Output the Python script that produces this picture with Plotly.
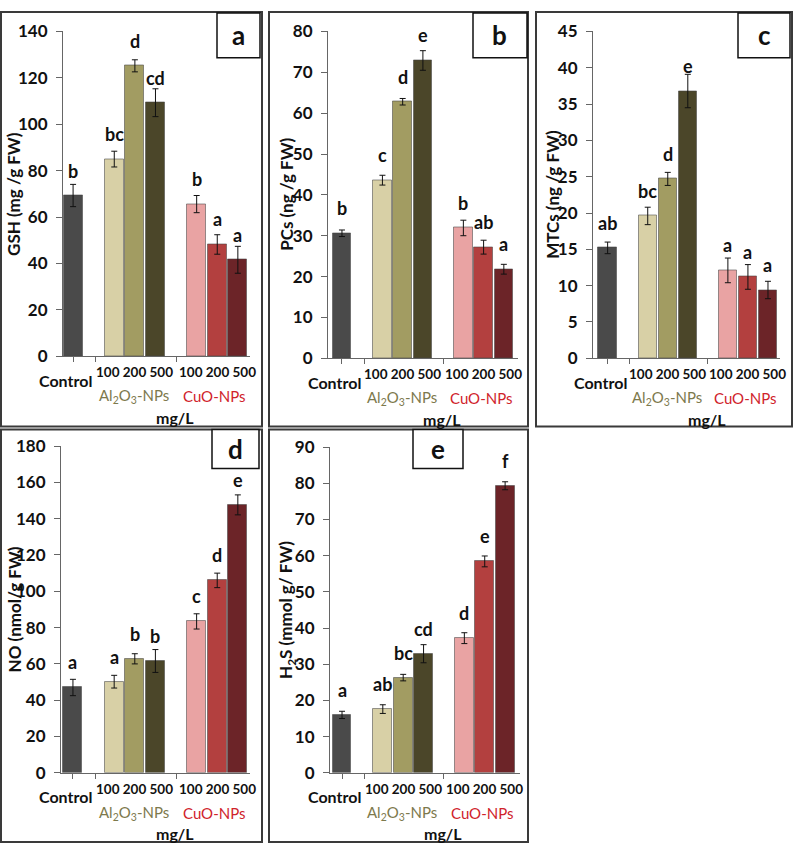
import plotly.graph_objects as go

# ---------------- data ----------------
dose_labels = ["Control", "100", "200", "500", "100", "200", "500"]
group_of = [0, 1, 1, 1, 2, 2, 2]
group_names = ["Control", "Al<sub>2</sub>O<sub>3</sub>-NPs", "CuO-NPs"]
bar_colors = ["#4a4a4a", "#d8d0a6", "#a29c62", "#4b4629", "#e9a3a3", "#b3403f", "#6c2428"]

gsh_mean = [69.3, 85.0, 125.2, 109.3, 65.6, 48.2, 41.6]
gsh_err = [4.8, 3.4, 2.6, 6.0, 3.7, 4.2, 5.8]
gsh_letters = ["b", "bc", "d", "cd", "b", "a", "a"]

pcs_mean = [30.6, 43.6, 62.8, 72.9, 31.9, 27.2, 21.8]
pcs_err = [0.8, 1.2, 0.8, 2.4, 1.9, 1.7, 1.2]
pcs_letters = ["b", "c", "d", "e", "b", "ab", "a"]

mtc_mean = [15.2, 19.6, 24.7, 36.8, 12.1, 11.2, 9.4]
mtc_err = [0.8, 1.2, 0.9, 2.3, 1.7, 1.7, 1.2]
mtc_letters = ["ab", "bc", "d", "e", "a", "a", "a"]

no_mean = [47.0, 50.2, 62.8, 61.6, 83.4, 106.0, 147.6]
no_err = [4.5, 3.5, 2.8, 6.3, 4.2, 4.0, 5.5]
no_letters = ["a", "a", "b", "b", "c", "d", "e"]

h2s_mean = [16.0, 17.6, 26.3, 32.9, 37.2, 58.4, 79.3]
h2s_err = [1.0, 1.2, 0.9, 2.5, 1.5, 1.5, 1.1]
h2s_letters = ["a", "ab", "bc", "cd", "d", "e", "f"]

# ---------------- layout helpers ----------------
W, H = 794, 855
def px(x):
    return x / W
def py(y):
    return 1 - y / H

# slot position: index + number of gaps before it
x_slots = [i + g for i, g in enumerate(group_of)]

panels = [
    dict(tag="a", mean=gsh_mean, err=gsh_err, let=gsh_letters, title="GSH (mg /g FW)",
         ymax=140, dtick=20, box=(63, 250, 21, 354), xr=(-0.49, 8.59),
         tagbox=(217, 260, 2, 48), frame=(1, 262, 1, 426), title_x=14),
    dict(tag="b", mean=pcs_mean, err=pcs_err, let=pcs_letters, title="PCs (ng /g FW)",
         ymax=80, dtick=10, box=(328, 518, 21, 356), xr=(-0.69, 8.7),
         tagbox=(473, 527, 2, 48), frame=(269, 528, 1, 426), title_x=287),
    dict(tag="c", mean=mtc_mean, err=mtc_err, let=mtc_letters, title="MTCs (ng /g FW)",
         ymax=45, dtick=5, box=(593, 780, 21, 356), xr=(-0.73, 8.6),
         tagbox=(738, 790, 2, 48), frame=(536, 792, 1, 426), title_x=553),
    dict(tag="d", mean=no_mean, err=no_err, let=no_letters, title="NO (nmol/g FW)",
         ymax=180, dtick=20, box=(61, 250, 446, 781), xr=(-0.58, 8.59),
         tagbox=(212, 259, 429, 469), frame=(1, 262, 429, 852), title_x=14),
    dict(tag="e", mean=h2s_mean, err=h2s_err, let=h2s_letters, title="H<sub>2</sub>S (mmol g/ FW)",
         ymax=90, dtick=10, box=(330, 520, 447, 781), xr=(-0.59, 8.73),
         tagbox=(413, 463, 429, 469), frame=(269, 528, 429, 852), title_x=287),
]

FONT = "Lato, 'Open Sans', sans-serif"
OLIVE = "#7d794c"
RED = "#d0232b"

fig = go.Figure()
annotations = []
shapes = []
layout_axes = {}

for k, p in enumerate(panels, start=1):
    xa = "x" if k == 1 else f"x{k}"
    ya = "y" if k == 1 else f"y{k}"
    L, R, T, B = p["box"]
    fig.add_trace(go.Bar(
        x=x_slots, y=p["mean"], xaxis=xa, yaxis=ya, width=0.92,
        marker=dict(color=bar_colors, line=dict(color="rgba(70,70,70,0.55)", width=1)),
        error_y=dict(type="data", array=p["err"], color="#111111", thickness=1, width=3),
        hoverinfo="skip",
    ))
    layout_axes[f"xaxis{'' if k == 1 else k}"] = dict(
        domain=[px(L), px(R)], range=list(p["xr"]), anchor=ya,
        showgrid=False, zeroline=False, showline=True, linecolor="#666666", linewidth=1,
        tickvals=[0, 1.1, 5.0], ticks="outside", ticklen=5, tickcolor="#666666",
        showticklabels=False, fixedrange=True,
    )
    layout_axes[f"yaxis{'' if k == 1 else k}"] = dict(
        domain=[py(B), py(T)], range=[0, p["ymax"]], dtick=p["dtick"], anchor=xa,
        showgrid=False, zeroline=False, showline=True, linecolor="#666666", linewidth=1,
        ticks="outside", ticklen=6, tickcolor="#666666", ticklabelstandoff=5,
        tickfont=dict(family=FONT, size=17, color="#111111", weight="bold"), fixedrange=True,
    )
    # significance letters
    for xs, m, lt in zip(x_slots, p["mean"], p["let"]):
        annotations.append(dict(x=xs, y=m, xref=xa, yref=ya, text=f"<b>{lt}</b>", showarrow=False,
                                yanchor="bottom", yshift=12,
                                font=dict(family=FONT, size=18, color="#111111")))
    # category labels: control alone, doses joined per group
    for g in range(len(group_names)):
        idx = [i for i, gg in enumerate(group_of) if gg == g]
        xs = [x_slots[i] for i in idx]
        labs = [dose_labels[i] for i in idx]
        if g == 0:
            annotations.append(dict(x=xs[0] - 0.38, y=0, xref=xa, yref=ya,
                                    text=f"<b>{labs[0]}</b>", showarrow=False,
                                    yanchor="middle", yshift=-24,
                                    font=dict(family=FONT, size=16, color="#111111")))
        else:
            annotations.append(dict(x=sum(xs) / len(xs), y=0, xref=xa, yref=ya,
                                    text="<b>" + " ".join(labs) + "</b>", showarrow=False,
                                    yanchor="middle", yshift=-16,
                                    font=dict(family=FONT, size=13.5, color="#111111")))
    # group lines and labels
    for (x0, x1, xc), name, col, tcol in [((1.07, 4.8, 2.95), group_names[1], "#8f8a5a", OLIVE),
                                          ((4.95, 8.74, 6.85), group_names[2], "#b94040", RED)]:
        shapes.append(dict(type="line", xref=xa, yref=ya, x0=x0, x1=x1, ysizemode="pixel",
                           yanchor=0, y0=-26, y1=-26, line=dict(color=col, width=2)))
        annotations.append(dict(x=xc, y=0, xref=xa, yref=ya, text=name, showarrow=False,
                                yanchor="middle", yshift=-40,
                                font=dict(family=FONT, size=15, color=tcol)))
    annotations.append(dict(x=4.95, y=0, xref=xa, yref=ya, text="<b>mg/L</b>", showarrow=False,
                            yanchor="middle", yshift=-61,
                            font=dict(family=FONT, size=16, color="#111111")))
    # y-axis title
    annotations.append(dict(x=px(p["title_x"]), y=py((T + B) / 2), xref="paper", yref="paper",
                            text=f"<b>{p['title']}</b>", textangle=-90, showarrow=False,
                            xanchor="center", yanchor="middle",
                            font=dict(family=FONT, size=17, color="#111111")))
    # panel frame
    fL, fR, fT, fB = p["frame"]
    shapes.append(dict(type="rect", xref="paper", yref="paper", x0=px(fL), x1=px(fR),
                       y0=py(fB), y1=py(fT), line=dict(color="#3a3a3a", width=2)))
    # panel tag box
    tL, tR, tT, tB = p["tagbox"]
    shapes.append(dict(type="rect", xref="paper", yref="paper", x0=px(tL), x1=px(tR),
                       y0=py(tB), y1=py(tT), line=dict(color="#111111", width=1.5),
                       fillcolor="white"))
    annotations.append(dict(x=px((tL + tR) / 2), y=py((tT + tB) / 2), xref="paper", yref="paper",
                            text=f"<b>{p['tag']}</b>", showarrow=False, xanchor="center",
                            yanchor="middle", font=dict(family=FONT, size=26, color="#111111")))

fig.update_layout(
    width=W, height=H, margin=dict(l=0, r=0, t=0, b=0),
    paper_bgcolor="white", plot_bgcolor="white", showlegend=False,
    bargap=0, annotations=annotations, shapes=shapes, **layout_axes,
)

fig.write_html("out.html")
